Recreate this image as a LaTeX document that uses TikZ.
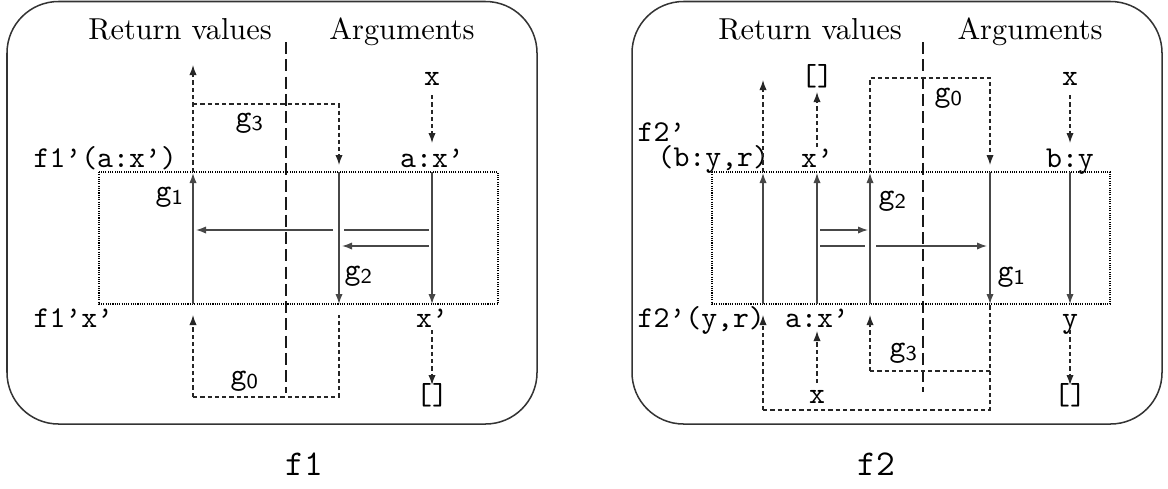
\documentclass[tikz,border=0pt]{standalone}
\usetikzlibrary{arrows.meta}
\newcommand\gsub[1]{\texttt{g}\textsubscript{\textsf{#1}}}
\begin{document}
\begin{tikzpicture}[x=0.33pt,y=-0.33pt,
  panel/.style={draw=black!80, line width=0.5pt, rounded corners=17pt},
  tip/.style={-{Latex[length=3.3pt,width=2.4pt]}},
  solidarr/.style={draw=black!72, line width=0.45pt, tip},
  solidln/.style={draw=black!72, line width=0.45pt},
  dasharr/.style={draw=black!85, line width=0.4pt, dash pattern=on 1.4pt off 1pt, tip},
  dashln/.style={draw=black!85, line width=0.4pt, dash pattern=on 1.4pt off 1pt},
  dotbox/.style={draw=black, line width=0.35pt, dash pattern=on 0.35pt off 0.4pt},
  divider/.style={draw=black!90, line width=0.4pt, dash pattern=on 4pt off 1.7pt},
  lbl/.style={inner sep=0pt, anchor=base, font=\ttfamily},
  lblw/.style={inner sep=0pt, anchor=base west, font=\ttfamily},
  head/.style={inner sep=0pt, anchor=base},
  captxt/.style={inner sep=0pt, anchor=base, font=\large\ttfamily}]
\useasboundingbox (0,0) rectangle (1168,488);

% ---------------- left panel (f1) ----------------
\draw[panel] (7,1.5) rectangle (537,424);
\node[head] (rv1) at (180,39) {Return values};
\node[head] (ar1) at (402,39) {Arguments};
\coordinate (d1t) at (286,42); \coordinate (d1b) at (286,393);
\draw[divider] (d1t) -- (d1b);
\draw[dotbox] (99,172) rectangle (498,304);

\node[lblw] (f1a) at (33,167) {f1’(a:x’)};
\node[lblw] (f1b) at (33,327) {f1’x’};
\node[lbl] (lx) at (432,85) {x};
\node[lbl] (lax) at (432,167) {a:x’};
\node[lbl] (lxp) at (432,327) {x’};
\node[lbl] (lnil) at (432,404) {[]};
\node[head] (lg1) at (170,200) {\gsub{1}};
\node[head] (lg2) at (359,279) {\gsub{2}};
\node[head] (lg3) at (250,126) {\gsub{3}};
\node[head] (lg0) at (245,384) {\gsub{0}};

\coordinate (L1a) at (193,304); \coordinate (L1b) at (193,173);
\coordinate (L2a) at (339,172); \coordinate (L2b) at (339,304);
\coordinate (L3a) at (432,172); \coordinate (L3b) at (432,304);
\draw[solidarr] (L1a) -- (L1b);
\draw[solidarr] (L2a) -- (L2b);
\draw[solidarr] (L3a) -- (L3b);
\coordinate (H1a) at (429,230); \coordinate (H1b) at (344,230);
\coordinate (H1c) at (333,230); \coordinate (H1d) at (196,230);
\draw[solidln] (H1a) -- (H1b);
\draw[solidarr] (H1c) -- (H1d);
\coordinate (H2a) at (429,246); \coordinate (H2b) at (342,246);
\draw[solidarr] (H2a) -- (H2b);

\coordinate (T1a) at (193,172); \coordinate (T1b) at (193,65);
\draw[dasharr] (T1a) -- (T1b);
\coordinate (G3a) at (193,104); \coordinate (G3b) at (339,104); \coordinate (G3c) at (339,165);
\draw[dasharr] (G3a) -- (G3b) -- (G3c);
\coordinate (LXa) at (432,95); \coordinate (LXb) at (432,143);
\draw[dasharr] (LXa) -- (LXb);
\coordinate (B1a) at (193,397); \coordinate (B1b) at (193,315);
\coordinate (B2a) at (339,397); \coordinate (B2b) at (339,315);
\draw[dasharr] (B1a) -- (B1b);
\draw[dashln] (B1a) -- (B2a) -- (B2b);
\coordinate (Xa) at (432,330); \coordinate (Xb) at (432,385);
\draw[dasharr] (Xa) -- (Xb);

\node[captxt] (cap1) at (304,475) {f1};

% ---------------- right panel (f2) ----------------
\draw[panel] (632,1.5) rectangle (1162,424);
\node[head] (rv2) at (810,39) {Return values};
\node[head] (ar2) at (1030,39) {Arguments};
\coordinate (d2t) at (923,42); \coordinate (d2b) at (923,392);
\draw[divider] (d2t) -- (d2b);
\draw[dotbox] (712,172) rectangle (1110,304);

\node[lblw] (f2a) at (637,141) {f2’};
\node[lblw] (f2b) at (657,166) {(b:y,r)};
\node[lblw] (f2c) at (637,327) {f2’(y,r)};
\node[lbl] (rnil1) at (817,85) {[]};
\node[lbl] (rxp) at (817,167) {x’};
\node[lbl] (rx1) at (1070,85) {x};
\node[lbl] (rby) at (1070,167) {b:y};
\node[lbl] (rax) at (817,327) {a:x’};
\node[lbl] (ry) at (1070,327) {y};
\node[lbl] (rx2) at (817,403) {x};
\node[lbl] (rnil2) at (1070,404) {[]};
\node[head] (rg0) at (949,101) {\gsub{0}};
\node[head] (rg2) at (893,204) {\gsub{2}};
\node[head] (rg1) at (1012,280) {\gsub{1}};
\node[head] (rg3) at (904,356) {\gsub{3}};

\coordinate (R1a) at (763,304); \coordinate (R1b) at (763,173);
\coordinate (R2a) at (817,304); \coordinate (R2b) at (817,173);
\coordinate (R3a) at (870,304); \coordinate (R3b) at (870,173);
\coordinate (R4a) at (990,172); \coordinate (R4b) at (990,304);
\coordinate (R5a) at (1070,172); \coordinate (R5b) at (1070,304);
\draw[solidarr] (R1a) -- (R1b);
\draw[solidarr] (R2a) -- (R2b);
\draw[solidarr] (R3a) -- (R3b);
\draw[solidarr] (R4a) -- (R4b);
\draw[solidarr] (R5a) -- (R5b);
\coordinate (S1a) at (820,230); \coordinate (S1b) at (868,230);
\draw[solidarr] (S1a) -- (S1b);
\coordinate (S2a) at (820,246); \coordinate (S2b) at (865,246);
\coordinate (S2c) at (876,246); \coordinate (S2d) at (987,246);
\draw[solidln] (S2a) -- (S2b);
\draw[solidarr] (S2c) -- (S2d);

\coordinate (RT1a) at (763,172); \coordinate (RT1b) at (763,80);
\draw[dasharr] (RT1a) -- (RT1b);
\coordinate (RT2a) at (817,147); \coordinate (RT2b) at (817,92);
\draw[dasharr] (RT2a) -- (RT2b);
\coordinate (RG0a) at (870,172); \coordinate (RG0b) at (870,78);
\coordinate (RG0c) at (990,78); \coordinate (RG0d) at (990,165);
\draw[dasharr] (RG0a) -- (RG0b) -- (RG0c) -- (RG0d);
\coordinate (RXa) at (1070,95); \coordinate (RXb) at (1070,143);
\draw[dasharr] (RXa) -- (RXb);

\coordinate (RB1a) at (763,410); \coordinate (RB1b) at (763,315);
\coordinate (RB4a) at (990,410); \coordinate (RB4b) at (990,305);
\draw[dasharr] (RB1a) -- (RB1b);
\draw[dashln] (RB1a) -- (RB4a) -- (RB4b);
\coordinate (RB3a) at (870,371); \coordinate (RB3b) at (870,315);
\coordinate (RB3c) at (990,371);
\draw[dasharr] (RB3a) -- (RB3b);
\draw[dashln] (RB3a) -- (RB3c);
\coordinate (RB2a) at (817,383); \coordinate (RB2b) at (817,331);
\draw[dasharr] (RB2a) -- (RB2b);
\coordinate (RYa) at (1070,330); \coordinate (RYb) at (1070,385);
\draw[dasharr] (RYa) -- (RYb);

\node[captxt] (cap2) at (876,475) {f2};
\end{tikzpicture}
\end{document}
